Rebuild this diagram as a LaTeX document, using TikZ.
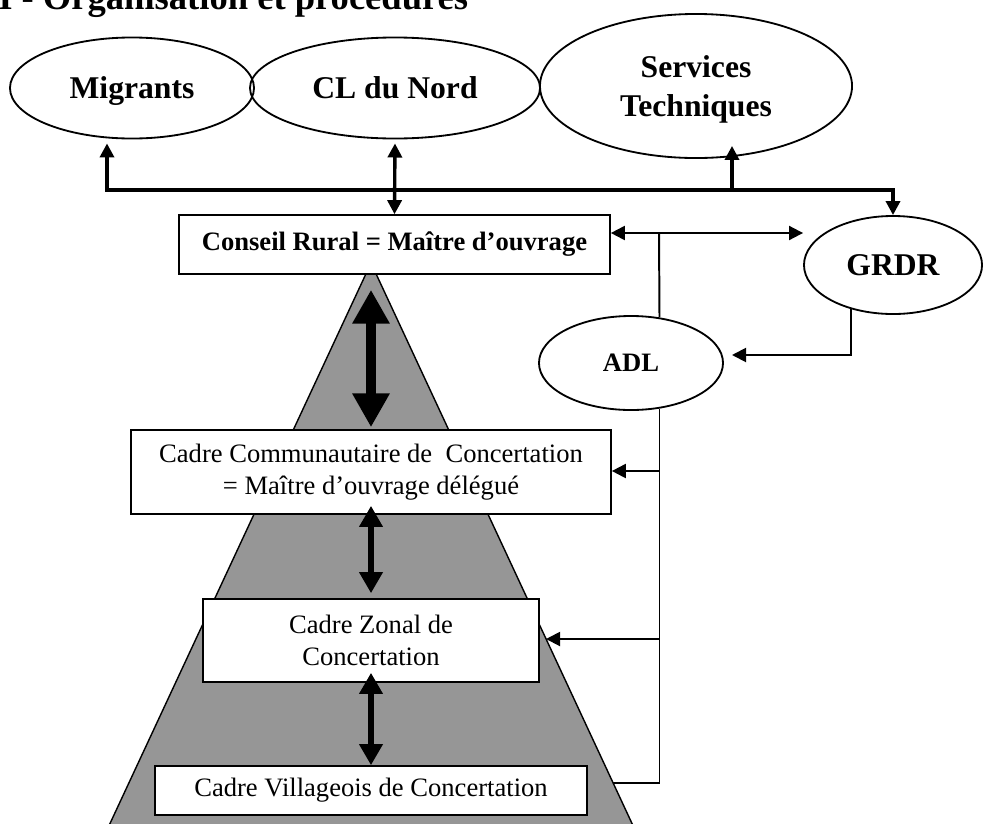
\documentclass[tikz,border=0pt]{standalone}
\usepackage{fontspec}
\setmainfont{Liberation Serif}
\usetikzlibrary{arrows.meta,shapes.geometric}
\definecolor{pyrgray}{RGB}{150,150,150}

\begin{document}
\begin{tikzpicture}[x=0.025cm, y=-0.025cm,
    title/.style={anchor=base west, inner sep=0pt, font=\fontsize{26}{30}\selectfont\bfseries},
    actor/.style={ellipse, draw, line width=1.3pt, inner sep=0pt, align=center, text depth=0pt,
      font=\fontsize{22.5}{27.7}\selectfont\bfseries},
    level/.style={rectangle, draw, fill=white, line width=1.1pt, inner sep=0pt, align=center,
      font=\fontsize{18.9}{22.8}\selectfont},
    pyramid/.style={draw, fill=pyrgray, line width=1pt},
    bus/.style={line width=2.4pt},
    link/.style={line width=1.4pt},
    smalltip/.tip={Triangle[width=10pt,length=10pt]},
    bigtip/.tip={Triangle[width=25pt,length=24pt]},
    midtip/.tip={Triangle[width=16pt,length=15pt]},
    bigarrow/.style={line width=7.8pt, bigtip-bigtip},
    midarrow/.style={line width=4.3pt, midtip-midtip},
  ]
    \useasboundingbox (0,0) rectangle (984,823);
    \clip (0,0) rectangle (984,823);

    % pyramid behind the levels
    \coordinate (apex) at (371,263);
    \coordinate (baseL) at (93,860);
    \coordinate (baseR) at (649,860);
    \draw[pyramid] (apex) -- (baseR) -- (baseL) -- cycle;

    \node[title] (title) at (-2,9) {I - Organisation et procédures};

    % partners
    \node[actor, minimum width=6.1cm, minimum height=2.525cm] (mig) at (132,88) {Migrants};
    \node[actor, minimum width=7.25cm, minimum height=2.525cm] (cln) at (395,88) {CL du Nord};
    \node[actor, minimum width=7.8cm, minimum height=3.6cm] (svc) at (696,86) {Services\\Techniques};
    \node[actor, minimum width=4.45cm, minimum height=2.45cm] (grdr) at (893,265) {GRDR};
    \node[actor, minimum width=4.6cm, minimum height=2.35cm,
      font=\fontsize{18.9}{22.8}\selectfont\bfseries] (adl) at (631,363) {ADL};

    % levels
    \node[level, minimum width=10.775cm, minimum height=1.475cm, font=\fontsize{18.9}{22.8}\selectfont\bfseries]
      (crural) at (394.5,244.5) {Conseil Rural = Maître d’ouvrage};
    \node[level, minimum width=12cm, minimum height=2.1cm] (ccc) at (371,472)
      {Cadre Communautaire de\ \ Concertation\\= Maître d’ouvrage délégué};
    \node[level, minimum width=8.4cm, minimum height=2.075cm] (czc) at (371,640.5)
      {Cadre Zonal de\\Concertation};
    \node[level, minimum width=10.8cm, minimum height=1.225cm] (cvc) at (371,790.5)
      {Cadre Villageois de Concertation};

    % links inside the pyramid
    \draw[bigarrow, shorten <=0.375cm, shorten >=0.05cm] (ccc.north |- crural.south) -- (ccc.north);
    \draw[midarrow, shorten <=-0.225cm, shorten >=0.125cm] (ccc.south) -- (czc.north);
    \draw[midarrow, shorten <=-0.25cm] (czc.south) -- (cvc.north);

    % bus to the partners
    \coordinate (busL) at (107,190);
    \coordinate (svcFoot) at (732,190);
    \draw[bus, smalltip-smalltip, shorten <=0.1cm] (mig.south -| busL) |- (grdr.north |- busL) -- (grdr.north);
    \draw[bus, smalltip-smalltip, shorten <=0.1cm] (cln.south) -- (crural.north);
    \draw[bus, -smalltip, shorten >=-0.325cm] (svcFoot) -- (svc.south -| svcFoot);

    % ADL branch
    \coordinate (adlTop) at (659,233);
    \coordinate (feedC) at (659,471);
    \coordinate (feedZ) at (659,639);
    \coordinate (edgeZ) at (546,639);
    \coordinate (edgeV) at (613,783);
    \coordinate (adlIn) at (732,355);
    \draw[link, smalltip-smalltip] (crural.east |- adlTop) -- (grdr.west |- adlTop);
    \draw[link] (adlTop) -- (adl.58);
    \draw[link] (adl.302) |- (edgeV);
    \draw[link, -smalltip] (feedC) -- (ccc.east |- feedC);
    \draw[link, -smalltip] (feedZ) -- (edgeZ);
    \draw[link, -smalltip] (grdr.226) |- (adlIn);
\end{tikzpicture}
\end{document}
